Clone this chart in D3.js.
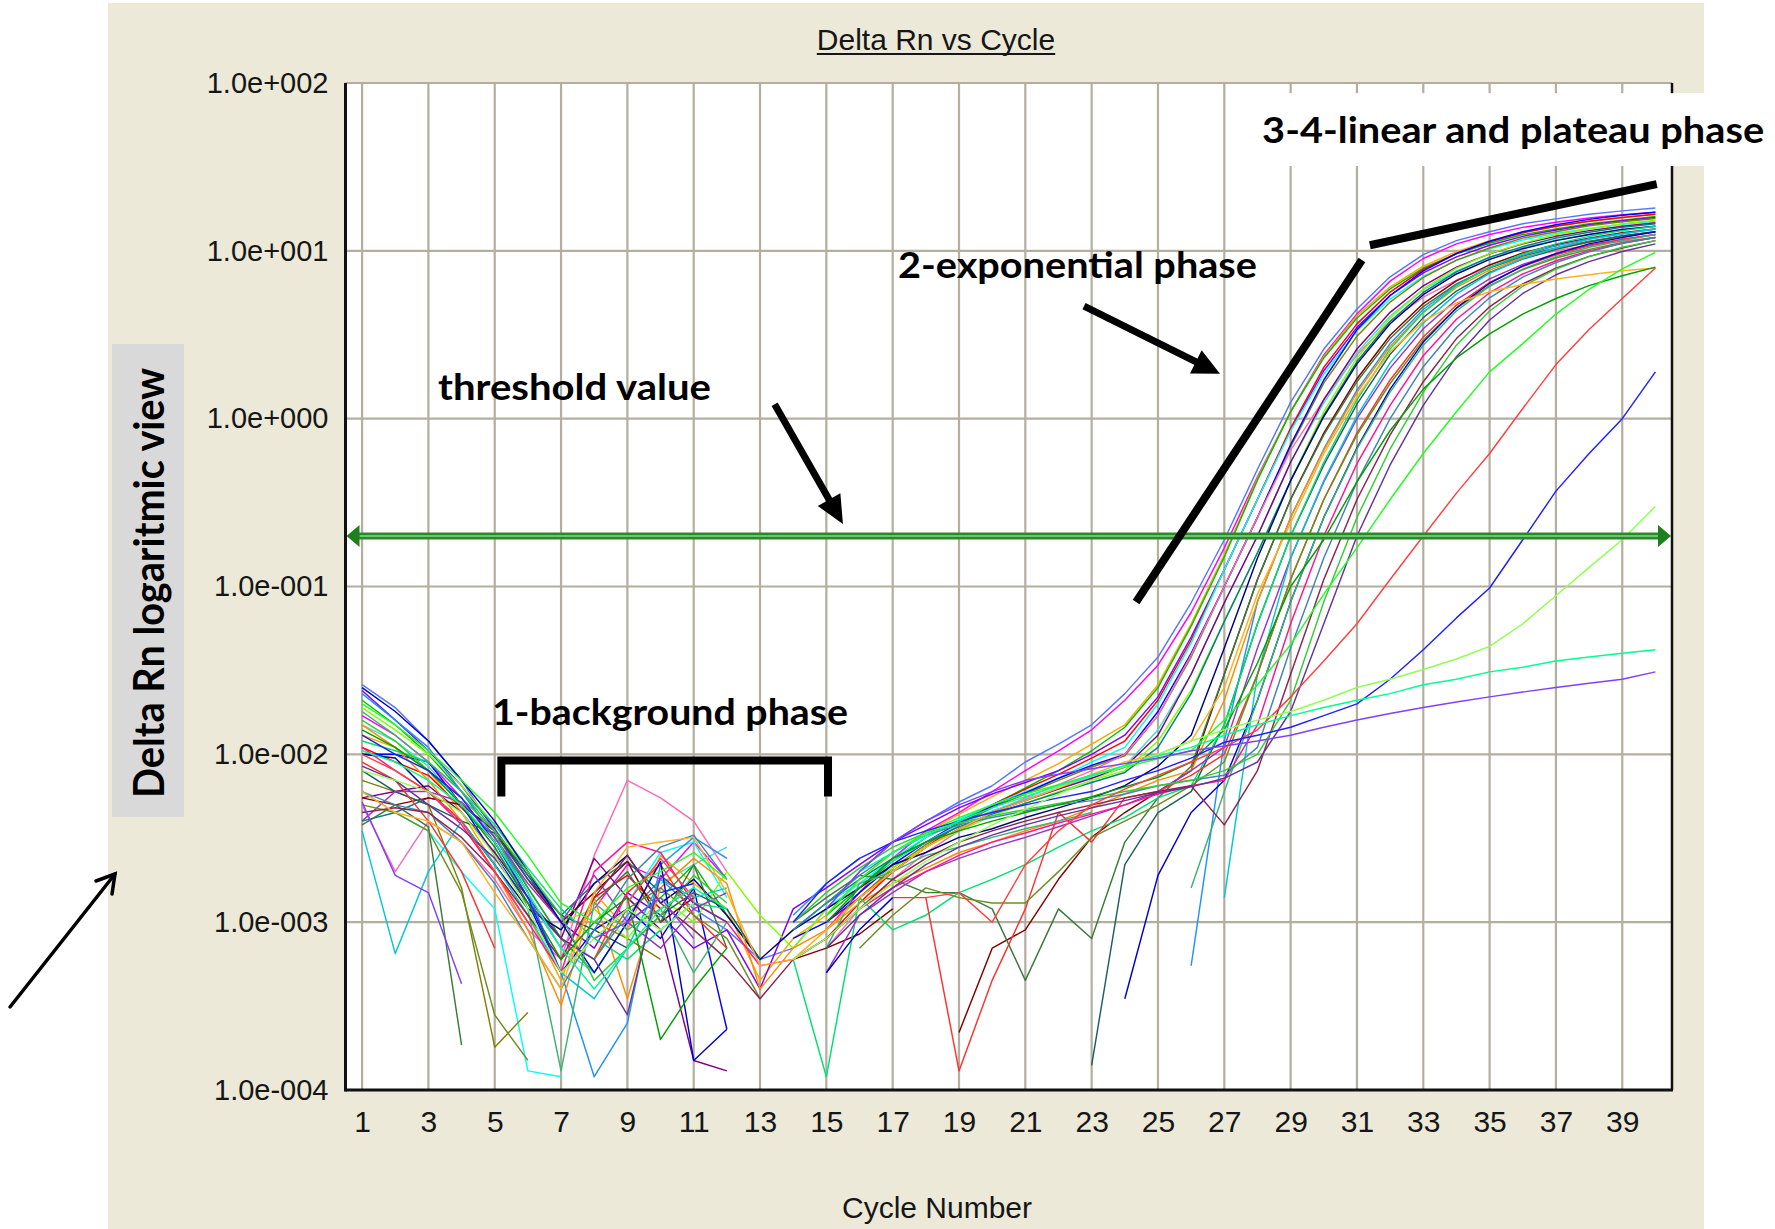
<!DOCTYPE html>
<html>
<head>
<meta charset="utf-8">
<title>Delta Rn vs Cycle</title>
<script src="https://cdn.jsdelivr.net/npm/d3@7/dist/d3.min.js"></script>
<style>
  html, body { margin: 0; padding: 0; background: #ffffff; }
  svg { display: block; }
</style>
</head>
<body>
<svg id="chart" width="1775" height="1229"></svg>
<script>
// ---------------- data ----------------
const cycleTicks = [1, 3, 5, 7, 9, 11, 13, 15, 17, 19, 21, 23, 25, 27, 29, 31, 33, 35, 37, 39];
const decadeTicks = [1e-4, 1e-3, 1e-2, 1e-1, 1, 10, 100];
const decadeLabels = ["1.0e-004", "1.0e-003", "1.0e-002", "1.0e-001", "1.0e+000", "1.0e+001", "1.0e+002"];
const thresholdValue = 0.2;

// Delta Rn per well, cycles 1..40 (null = not plotted on the log scale)
const wellA01 = [2.6e-2,1.9e-2,1.2e-2,7e-3,3.5e-3,1.6e-3,8e-4,6e-4,1.1e-3,1.8e-3,
  1.2e-3,9e-4,6e-4,7e-4,1.2e-3,2.0e-3,3.0e-3,4.0e-3,5.2e-3,6.5e-3,
  9e-3,1.15e-2,1.5e-2,2.3e-2,3.8e-2,8e-2,0.19,0.5,1.25,2.6,
  4.5,7,9.5,11.5,13,14.5,15.5,16.5,17.3,18];
const wellA02 = [1.7e-2,1.3e-2,9e-3,5.5e-3,3e-3,1.4e-3,7e-4,1.2e-3,2.2e-3,1.8e-3,
  3e-3,1.8e-3,null,null,9e-4,1.5e-3,2.4e-3,3.5e-3,4.5e-3,6e-3,
  8e-3,1.05e-2,1.4e-2,2.1e-2,3.4e-2,7e-2,0.17,0.45,1.1,2.4,
  4.2,6.6,9,11,12.5,13.8,14.8,15.7,16.4,17];
const wellA03 = [1.3e-2,1.1e-2,8e-3,4.5e-3,2.2e-3,1.1e-3,4.5e-4,1.5e-3,9e-4,2.5e-3,
  1.7e-3,1.2e-3,4.5e-4,8e-4,1.1e-3,1.8e-3,2.6e-3,3.4e-3,4.4e-3,5.6e-3,
  7e-3,8.8e-3,1.15e-2,1.5e-2,2.6e-2,6e-2,0.155,0.44,1.1,2.35,
  4.1,6.1,8.1,9.9,11.5,12.9,14,15,15.8,16.5];
const wellA04 = [2.1e-2,1.5e-2,1e-2,6e-3,3.2e-3,1.6e-3,8e-4,5e-4,1e-3,1.4e-3,
  2.2e-3,1.1e-3,6e-4,null,1.1e-3,1.6e-3,2.3e-3,3.2e-3,4e-3,5e-3,
  6.3e-3,8e-3,1.05e-2,1.45e-2,2.5e-2,5.8e-2,0.15,0.43,1.1,2.3,
  3.98,5.93,7.9,9.6,11.1,12.5,13.5,14.5,15.2,16];
const wellA05 = [2.4e-2,1.6e-2,1.05e-2,6.5e-3,3.6e-3,1.9e-3,1e-3,7e-4,1.5e-3,1.1e-3,
  7e-4,9e-4,4e-4,1.2e-3,1.6e-3,2.2e-3,3e-3,3.8e-3,4.8e-3,5.8e-3,
  6.8e-3,8e-3,1e-2,1.3e-2,2.2e-2,5e-2,0.126,0.331,0.86,1.93,
  3.5,5.42,7.4,9.2,10.8,12.2,13.3,14.3,15.1,15.8];
const wellA06 = [1.1e-2,9e-3,7.5e-3,4.8e-3,3e-3,1.5e-3,null,1.4e-3,1.9e-3,1.2e-3,
  1.6e-3,null,null,null,8e-4,1.3e-3,2e-3,2.8e-3,3.8e-3,5e-3,
  6.2e-3,7.6e-3,9.5e-3,1.2e-2,2.1e-2,4.8e-2,0.126,0.331,0.88,2.02,
  3.67,5.68,7.76,9.65,11.3,12.8,14,15,15.8,16.5];
const wellA07 = [6e-3,4.5e-3,3.5e-3,2e-3,1.2e-3,1.3e-4,1.2e-4,null,1.3e-3,2.6e-3,
  3e-3,1.4e-3,null,9e-4,1.2e-3,1.7e-3,2.4e-3,3.2e-3,4.1e-3,5e-3,
  6e-3,7.2e-3,9e-3,1.1e-2,2e-2,4.6e-2,0.126,0.331,0.845,1.84,
  3.34,5.16,7.05,8.77,10.3,11.6,12.7,13.6,14.4,15];
const wellA08 = [7e-3,6e-3,5e-3,1.6e-3,1.8e-4,2.9e-4,null,1e-3,8e-4,6e-4,
  null,5e-4,null,null,9e-4,1.4e-3,2.1e-3,2.9e-3,3.8e-3,4.8e-3,
  5.8e-3,7e-3,8.4e-3,9.8e-3,1.7e-2,3.8e-2,0.1,0.258,0.681,1.63,
  3.1,4.95,6.94,8.8,10.4,11.9,13,14.1,14.9,15.6];
const wellA09 = [1e-2,1e-2,9e-3,5e-3,2.5e-3,1.3e-3,5e-4,9e-4,1.2e-3,8e-4,
  1.6e-3,2.3e-4,null,8e-4,1e-3,1.5e-3,2.2e-3,3e-3,3.9e-3,4.9e-3,
  5.9e-3,7.2e-3,8.6e-3,1e-2,1.8e-2,4e-2,0.1,0.258,0.7,1.7,
  3.39,5.42,7.6,9.64,11.4,13,14.3,15.4,16.3,17];
const wellA10 = [5e-3,2e-3,4e-3,3e-3,1.8e-3,9e-4,6e-4,2.5e-3,7e-3,5.5e-3,
  4e-3,2e-3,null,null,7e-4,1.2e-3,1.8e-3,2.6e-3,3.5e-3,4.5e-3,
  5.5e-3,6.6e-3,8e-3,1e-2,1.7e-2,3.9e-2,0.1,0.258,0.65,1.3,
  2.4,3.8,5.3,6.7,8,9.1,10,10.8,11.4,12];
const wellA11 = [1.5e-2,1.2e-2,8.5e-3,5e-3,2.8e-3,1.4e-3,7e-4,5e-4,null,1.7e-3,
  2.2e-3,2.8e-3,null,9e-4,1.3e-3,1.7e-3,2.3e-3,3e-3,3.8e-3,4.6e-3,
  5.4e-3,6.3e-3,7.4e-3,8.5e-3,1.4e-2,3e-2,0.08,0.2,0.55,1.24,
  2.47,4.09,5.88,7.6,9.11,10.45,11.6,12.5,13.3,14];
const wellA12 = [5.5e-3,6e-3,6.5e-3,4.5e-3,2.6e-3,1.4e-3,8e-4,2.4e-3,1.4e-3,9e-4,
  1.5e-4,1.3e-4,null,null,1e-3,1.4e-3,2e-3,2.8e-3,3.6e-3,4.5e-3,
  5.3e-3,6.2e-3,7.2e-3,8.4e-3,1.3e-2,3e-2,0.08,0.2,0.55,1.3,
  2.6,4.3,6.19,8,9.59,11,12.2,13.2,14,14.7];
const wellA13 = [1.9e-2,1.4e-2,1e-2,6.5e-3,3.8e-3,2e-3,1e-3,1.2e-3,8e-4,1.4e-3,
  1e-3,2e-3,1.1e-3,7e-4,1.2e-3,1.6e-3,2.1e-3,2.8e-3,3.5e-3,4.3e-3,
  5.1e-3,6e-3,7e-3,8e-3,1.2e-2,2.4e-2,6.2e-2,0.159,0.427,1.1,
  2.3,3.98,5.93,7.88,9.62,11.1,12.5,13.5,14.5,15.2];
const wellA14 = [4e-3,4.5e-3,5.5e-3,5e-3,3.5e-3,1.9e-3,1.1e-3,1.7e-3,2.3e-3,1.5e-3,
  null,8e-4,null,9e-4,1.3e-3,1.8e-3,2.4e-3,3e-3,3.7e-3,4.4e-3,
  5.1e-3,5.9e-3,6.8e-3,7.8e-3,1.1e-2,2.3e-2,6.2e-2,0.159,0.427,1.05,
  2.19,3.79,5.65,7.5,9.16,10.6,11.9,12.9,13.8,14.5];
const wellB01 = [1e-2,9.5e-3,6e-3,4e-3,2.2e-3,1.2e-3,9e-4,1.7e-3,2.5e-3,1.3e-3,
  1.8e-3,1.1e-3,6e-4,9e-4,1.2e-3,1.6e-3,2.2e-3,2.6e-3,3.2e-3,3.6e-3,
  4.2e-3,4.8e-3,5.5e-3,6.5e-3,8.5e-3,1.3e-2,4.3e-2,0.148,0.427,1.03,
  2.12,3.68,5.48,7.28,8.9,10.3,11.5,12.5,13.4,14];
const wellB02 = [5.5e-3,5e-3,5.5e-3,5e-3,3.5e-3,1.8e-3,1e-3,1.5e-3,2.3e-3,1e-3,
  1.4e-3,null,null,6e-4,7e-4,8.5e-4,1.2e-3,null,2.2e-4,7e-4,
  9e-4,1.8e-3,3.2e-3,4.5e-3,6e-3,8e-3,3e-2,0.11,0.331,0.82,
  1.73,3.14,4.85,6.63,8.24,9.7,10.9,11.9,12.8,13.5];
const wellB03 = [3.8e-3,5e-3,3.7e-3,1.85e-4,null,null,null,1.3e-3,2e-3,1e-3,
  2.2e-3,7e-4,null,1e-3,1.4e-3,1.9e-3,1.8e-3,1.5e-3,1.5e-3,1.2e-3,
  4.5e-4,1.2e-3,8e-4,3e-3,5.5e-3,8.5e-3,3e-2,0.11,0.33,0.8,
  1.66,3,4.65,6.35,7.9,9.3,10.4,11.4,12.2,13];
const wellB04 = [2.3e-2,1.6e-2,1.1e-2,6e-3,3.2e-3,1.5e-3,5e-4,1.2e-4,2.5e-4,2.2e-3,
  3.2e-3,2.4e-3,null,1.1e-3,1.7e-3,2.4e-3,null,null,null,null,
  null,null,null,null,null,5.5e-4,1.2e-2,8.1e-2,0.258,0.66,
  1.48,2.8,4.47,6.28,7.96,9.43,10.7,11.8,12.7,13.5];
const wellB05 = [1.5e-2,1.1e-2,7e-3,4e-3,2e-3,9e-4,3.2e-4,1.4e-3,3.5e-4,1.6e-3,
  2.4e-3,1.7e-3,4e-4,7e-4,9e-4,1.3e-3,1.7e-3,2.1e-3,2.6e-3,3e-3,
  3.5e-3,4e-3,4.8e-3,5.8e-3,7e-3,8e-3,2.1e-2,8.1e-2,0.258,0.65,
  1.43,2.7,4.31,6.05,7.67,9.09,10.3,11.3,12.2,13];
const wellB06 = [8e-3,6e-3,5e-3,4e-3,3.4e-3,1.8e-3,1.1e-3,9e-4,7e-4,1.1e-3,
  1.5e-3,1.2e-3,6e-4,null,null,null,null,null,null,null,
  null,null,1.4e-4,2.2e-3,4.5e-3,6e-3,1.5e-2,6e-2,0.2,0.53,
  1.22,2.42,4,5.76,7.44,8.92,10.2,11.3,12.3,13];
const wellB07 = [1.2e-2,1.05e-2,9e-3,6e-3,3.8e-3,2.1e-3,1.2e-3,8e-4,6e-4,9e-4,
  1.3e-3,1.2e-3,null,6e-4,1.2e-4,1.4e-3,9e-4,1.1e-3,1.5e-3,1.8e-3,
  2.2e-3,2.8e-3,3.5e-3,4.2e-3,5.5e-3,6.5e-3,1.5e-2,6e-2,0.2,0.55,
  1.3,2.6,4.3,6.19,8,9.59,11,12.2,13.2,14];
const wellB08 = [4e-3,6e-3,6e-3,5.2e-3,3.2e-3,1.7e-3,1e-3,1.9e-3,1e-3,7e-4,
  1.2e-3,1.5e-3,null,null,5e-4,1.1e-3,1.5e-3,2e-3,2.4e-3,2.8e-3,
  3.2e-3,3.7e-3,4.3e-3,5e-3,6e-3,8e-3,1.1e-2,4.3e-2,0.148,0.42,
  1,2,3.43,5.12,6.8,8.3,9.6,10.8,11.7,12.5];
const wellB09 = [3.5e-3,6.5e-4,2e-3,4e-3,2.2e-3,1.1e-3,5e-4,3.5e-4,7e-4,1.8e-3,
  1.4e-3,1.6e-3,null,null,null,null,null,null,null,null,
  null,null,null,null,null,null,1.4e-3,3e-2,0.148,0.427,
  1.04,2.15,3.71,5.54,7.35,8.98,10.4,11.7,12.6,13.5];
const wellB10 = [9e-3,7e-3,4e-3,2e-3,7e-4,null,null,6e-4,1.5e-3,2.2e-3,
  1.1e-3,7e-4,null,null,null,null,1.4e-3,1.4e-3,1.3e-4,4.5e-4,
  1.2e-3,4.5e-3,3e-3,5.5e-3,6e-3,7.5e-3,1e-2,3e-2,0.11,0.33,
  0.82,1.7,3.07,4.75,6.49,8.07,9.48,10.7,11.7,12.5];
const wellB11 = [5e-3,4.5e-3,3.5e-3,1.5e-3,2.8e-4,1.5e-4,null,6e-4,1.2e-3,1.6e-3,
  1.1e-3,8e-4,3.5e-4,null,null,7e-4,1.1e-3,1.6e-3,1.4e-3,1.3e-3,
  1.3e-3,2e-3,3.2e-3,4e-3,5e-3,6.5e-3,9e-3,3e-2,0.11,0.33,
  0.8,1.62,2.94,4.54,6.2,7.72,9.06,10.2,11.2,12];
const wellB12 = [2.5e-2,1.8e-2,1.2e-2,7e-3,4e-3,2e-3,1e-3,5e-4,1e-3,2.3e-3,
  1.5e-4,2.3e-4,null,null,5e-4,9e-4,1.4e-3,null,null,null,
  null,null,null,3.5e-4,1.9e-3,4.5e-3,7e-3,2.1e-2,8.1e-2,0.258,
  0.67,1.5,2.86,4.57,6.41,8.13,9.63,11,12,13];
const wellB13 = [1.8e-2,1.3e-2,9e-3,6e-3,3.5e-3,1.2e-3,1.3e-4,1.3e-3,9e-4,1.2e-3,
  5e-4,1e-3,null,null,7e-4,1.7e-3,2e-3,2.5e-3,2.8e-3,3.2e-3,
  3.6e-3,4e-3,4.5e-3,null,null,1.6e-3,6e-3,2.1e-2,8.1e-2,0.258,
  0.66,1.44,2.74,4.38,6.15,7.79,9.23,10.5,11.5,12.5];
const wellB14 = [1.1e-2,8e-3,6e-3,3.8e-3,2e-3,1e-3,5e-4,2e-3,3e-3,2.6e-3,
  1.3e-3,1e-3,5.5e-4,6e-4,8e-4,1.2e-3,1.6e-3,2e-3,2.5e-3,3e-3,
  3.4e-3,3.9e-3,4.4e-3,5e-3,5.8e-3,6.5e-3,7e-3,1.5e-2,6e-2,0.2,
  0.54,1.2,2.37,3.91,5.63,7.28,8.73,10,11.1,12];
const wellB15 = [6e-3,5e-3,4.5e-3,3e-3,1.7e-3,8e-4,4e-4,9e-4,1.8e-3,2.8e-3,
  3.3e-3,1.8e-3,null,9e-4,1.3e-3,1.9e-3,2.6e-3,3.3e-3,3.8e-3,4.2e-3,
  4.6e-3,5e-3,5.3e-3,5.8e-3,6.5e-3,7e-3,7.5e-3,1.1e-2,4.3e-2,0.148,
  0.42,1,2.04,3.52,5.25,6.98,8.52,9.86,11.1,12];
const wellB16 = [4.5e-3,4.8e-3,4.5e-3,3.2e-3,2e-3,1.1e-3,6e-4,1.4e-3,2.5e-3,1.3e-3,
  9e-4,6e-4,3.5e-4,6e-4,8e-4,1.2e-3,1.8e-3,2.4e-3,3e-3,3.5e-3,
  4e-3,4.5e-3,5e-3,5.5e-3,6e-3,6.5e-3,3.8e-3,8e-3,3e-2,0.11,
  0.33,0.8,1.66,3,4.64,6.35,7.89,9.27,10.4,11.5];
const wellB17 = [1.6e-2,1.2e-2,8e-3,5.5e-3,3.5e-3,2e-3,1.1e-3,4.5e-4,7e-4,1.1e-3,
  1.9e-3,1.3e-3,null,1e-3,1.5e-3,2.1e-3,2.8e-3,3.4e-3,3.9e-3,4.3e-3,
  4.7e-3,5.1e-3,5.5e-3,6e-3,6.5e-3,7e-3,8e-3,1e-2,2.1e-2,8.1e-2,
  0.258,0.66,1.44,2.74,4.38,6.15,7.79,9.24,10.5,11.5];
const wellB18 = [8.5e-3,7e-3,5e-3,3.6e-3,2.4e-3,1.3e-3,8e-4,6e-4,2.8e-4,1.9e-3,
  1.3e-3,1e-3,null,null,7e-4,1.1e-3,1.6e-3,2.2e-3,2.8e-3,3.3e-3,
  3.8e-3,4.3e-3,4.8e-3,5.3e-3,5.9e-3,6.4e-3,7.2e-3,9e-3,1.8e-2,6e-2,
  0.2,0.53,1.2,2.34,3.87,5.57,7.2,8.63,9.9,11];
const wellC01 = [6e-3,4.5e-3,4e-3,3e-3,1.5e-3,8e-4,4e-4,1.5e-3,2.8e-3,3e-3,
  3.2e-3,1.5e-3,5.5e-4,6e-4,9e-4,1.4e-3,2e-3,2.8e-3,3.6e-3,4.5e-3,
  5.3e-3,6.3e-3,7.6e-3,9e-3,1e-2,1.2e-2,2.5e-2,9e-2,0.24,0.62,
  1.35,2.5,3.8,4.9,5.7,6.3,6.8,7.2,7.6,7.9];
const wellC02 = [1.4e-2,1.1e-2,8e-3,5e-3,2.8e-3,1.3e-3,6e-4,1e-3,1.4e-3,2e-4,
  4e-4,7e-4,null,null,1e-3,1.6e-3,2.4e-3,3e-3,3.5e-3,4e-3,
  4.5e-3,5e-3,5.6e-3,6.4e-3,7.3e-3,9e-3,1.4e-2,3.5e-2,0.1,0.19,
  0.42,0.85,1.5,2.3,3.2,4.2,5.2,6.2,7.1,8];
const wellC03 = [2e-2,1.5e-2,1.05e-2,7e-3,4.5e-3,2.5e-3,1.3e-3,1e-3,1.6e-3,2e-3,
  2.6e-3,1.8e-3,null,null,1.1e-3,1.8e-3,2.6e-3,3.4e-3,4.2e-3,5e-3,
  5.8e-3,6.6e-3,7.5e-3,8.4e-3,9.4e-3,1.05e-2,1.6e-2,2.6e-2,4.5e-2,9e-2,
  0.17,0.33,0.62,1.1,1.9,2.8,4.2,5.9,7.8,9.8];
const wellC04 = [1e-2,8e-3,6e-3,4e-3,2e-3,1e-3,null,null,1.3e-3,2.4e-3,
  1.4e-3,null,null,null,null,null,null,1.4e-3,1.5e-3,1e-3,
  2.2e-3,3.5e-3,5e-3,6.2e-3,7.5e-3,9e-3,1.1e-2,1.4e-2,2.2e-2,3.6e-2,
  6e-2,0.11,0.2,0.36,0.62,1.15,2.1,3.4,5.2,7.9];
const wellC05 = [1.3e-2,1e-2,8e-3,5.5e-3,3e-3,1.4e-3,5e-4,null,null,1.5e-3,
  1.7e-3,null,null,1e-3,1.7e-3,2.4e-3,3e-3,3.5e-3,4e-3,4.5e-3,
  5e-3,5.5e-3,6e-3,7e-3,8e-3,9.5e-3,1.18e-2,1.3e-2,1.45e-2,1.7e-2,
  2e-2,2.8e-2,4.2e-2,6.5e-2,9.8e-2,0.19,0.37,0.62,1,1.9];
const wellC06 = [8e-3,7e-3,6e-3,4.5e-3,2.5e-3,1.2e-3,5e-4,8e-4,1.2e-3,9e-4,
  1.3e-3,null,null,6e-4,8e-4,1.2e-3,1.7e-3,2.3e-3,3e-3,3.8e-3,
  4.7e-3,5.8e-3,7e-3,8.5e-3,1e-2,1.2e-2,1.4e-2,1.6e-2,1.8e-2,2.1e-2,
  2.5e-2,2.8e-2,3.2e-2,3.7e-2,4.4e-2,6e-2,8.8e-2,0.13,0.19,0.3];
const wellC07 = [1.05e-2,9e-3,7e-3,5e-3,3e-3,1.5e-3,7e-4,4e-4,7e-4,1.2e-3,
  1.6e-3,1.2e-3,null,7e-4,null,2e-3,2.6e-3,3.3e-3,4e-3,4.8e-3,
  5.6e-3,6.5e-3,7.5e-3,8.6e-3,9.8e-3,1.1e-2,1.3e-2,1.5e-2,1.7e-2,1.9e-2,
  2.1e-2,2.3e-2,2.6e-2,2.8e-2,3.1e-2,3.3e-2,3.6e-2,3.8e-2,4e-2,4.2e-2];
const wellC08 = [5.2e-3,1.9e-3,1.5e-3,4.3e-4,null,null,null,8e-4,1e-3,1.4e-3,
  8e-4,null,null,null,1.2e-3,2e-3,3e-3,4e-3,5e-3,6e-3,
  7e-3,7.6e-3,8.2e-3,8.8e-3,9.5e-3,1.05e-2,1.12e-2,1.2e-2,1.3e-2,1.45e-2,
  1.6e-2,1.75e-2,1.9e-2,2.05e-2,2.2e-2,2.35e-2,2.5e-2,2.65e-2,2.8e-2,3.1e-2];

const wells = [
  wellA01, wellA02, wellA03, wellA04, wellA05, wellA06, wellA07, wellA08, wellA09, wellA10,
  wellA11, wellA12, wellA13, wellA14,
  wellB01, wellB02, wellB03, wellB04, wellB05, wellB06, wellB07, wellB08, wellB09, wellB10,
  wellB11, wellB12, wellB13, wellB14, wellB15, wellB16, wellB17, wellB18,
  wellC01, wellC02, wellC03, wellC04, wellC05, wellC06, wellC07, wellC08
];
const wellColors = [
  "#5577ff", "#ff00ff", "#ffa500", "#00c000", "#8000ff", "#ff0000", "#00ffff", "#808000", "#0000ff", "#ff69b4",
  "#40e0d0", "#800080", "#80ff00", "#008080",
  "#000080", "#800000", "#3a7a3a", "#1e90ff", "#ff8c00", "#1f5f5f", "#00e070", "#9932cc", "#00c8d0", "#ff3030",
  "#6b8e23", "#0000cd", "#3cb371", "#ff1493", "#4682b4", "#8b2252", "#32cd32", "#663399",
  "#ffb020", "#00a000", "#20ff20", "#ff4040", "#2020ff", "#90ff50", "#00ff90", "#8040ff"
];

// Annotation anchors in chart units: [cycle, Delta Rn]
const thresholdPointer = [[13.44, 1.22], [15.5, 0.236]];
const exponentialPointer = [[22.77, 4.69], [26.87, 1.85]];
const exponentialBar = [[24.34, 0.0809], [31.15, 8.82]];
const plateauBar = [[31.39, 10.8], [40.04, 25.0]];
const backgroundBracket = { from: 5.2, to: 15.05, top: 9.2e-3, foot: 5.6e-3 };

// ---------------- layout ----------------
const svg = d3.select("#chart");
const plotLeft = 345.5, plotRight = 1672, plotTop = 83, plotBottom = 1090;

const x = d3.scaleLinear().domain([0.5, 40.5]).range([plotLeft, plotRight]);
const y = d3.scaleLog().domain([1e-4, 100]).range([plotBottom, plotTop]);

const axisFont = "'Liberation Sans', Arial, Helvetica, sans-serif";
const noteFont = "Lato, 'Open Sans', 'Liberation Sans', sans-serif";

// window panel
svg.append("rect")
  .attr("x", 108).attr("y", 3).attr("width", 1596).attr("height", 1226)
  .attr("fill", "#ece9d8");

// plot background
svg.append("rect")
  .attr("x", plotLeft).attr("y", plotTop)
  .attr("width", plotRight - plotLeft).attr("height", plotBottom - plotTop)
  .attr("fill", "#ffffff");

// grid
const grid = svg.append("g").attr("stroke", "#b3ae9f").attr("stroke-width", 2.2);
grid.selectAll("line.vx").data(cycleTicks).join("line")
  .attr("x1", d => x(d)).attr("x2", d => x(d))
  .attr("y1", plotTop).attr("y2", plotBottom);
grid.selectAll("line.hy").data(decadeTicks).join("line")
  .attr("x1", plotLeft).attr("x2", plotRight)
  .attr("y1", d => y(d)).attr("y2", d => y(d));

// amplification curves
svg.append("clipPath").attr("id", "plotClip")
  .append("rect")
  .attr("x", plotLeft).attr("y", plotTop)
  .attr("width", plotRight - plotLeft).attr("height", plotBottom - plotTop);

const curve = d3.line()
  .defined(d => d != null)
  .x((d, i) => x(i + 1))
  .y(d => y(d));

svg.append("g").attr("clip-path", "url(#plotClip)")
  .selectAll("path").data(wells).join("path")
  .attr("d", curve)
  .attr("fill", "none")
  .attr("stroke", (d, i) => wellColors[i])
  .attr("stroke-width", 1.45)
  .attr("stroke-linejoin", "round");

// threshold line with end arrows
const ty = y(thresholdValue);
const thr = svg.append("g");
thr.append("line")
  .attr("x1", plotLeft + 8).attr("x2", plotRight - 8)
  .attr("y1", ty).attr("y2", ty)
  .attr("stroke", "#2a8a2a").attr("stroke-width", 7);
thr.append("line")
  .attr("x1", plotLeft + 8).attr("x2", plotRight - 8)
  .attr("y1", ty).attr("y2", ty)
  .attr("stroke", "#6cc46c").attr("stroke-width", 2.2);
thr.append("path")
  .attr("d", `M${plotLeft + 1},${ty} L${plotLeft + 14},${ty - 11} L${plotLeft + 14},${ty + 11} Z`)
  .attr("fill", "#1f7f1f");
thr.append("path")
  .attr("d", `M${plotRight - 1},${ty} L${plotRight - 14},${ty - 11} L${plotRight - 14},${ty + 11} Z`)
  .attr("fill", "#1f7f1f");

// axes
const xAxis = d3.axisBottom(x).tickValues(cycleTicks).tickSize(0).tickPadding(21)
  .tickFormat(d3.format("d"));
svg.append("g")
  .attr("transform", `translate(0,${plotBottom})`)
  .call(xAxis)
  .call(g => g.select(".domain").remove())
  .attr("font-family", axisFont).attr("font-size", 30)
  .selectAll("text").attr("fill", "#161616");

const yAxis = d3.axisLeft(y).tickValues(decadeTicks).tickSize(0).tickPadding(17)
  .tickFormat((d, i) => decadeLabels[i]);
svg.append("g")
  .attr("transform", `translate(${plotLeft},0)`)
  .call(yAxis)
  .call(g => g.select(".domain").remove())
  .attr("font-family", axisFont).attr("font-size", 29)
  .selectAll("text").attr("fill", "#161616");

// plot frame
const frame = svg.append("g").attr("stroke", "#111111");
frame.append("line").attr("x1", plotLeft).attr("x2", plotLeft)
  .attr("y1", plotTop).attr("y2", plotBottom + 1.5).attr("stroke-width", 3);
frame.append("line").attr("x1", plotLeft).attr("x2", plotRight + 1)
  .attr("y1", plotBottom).attr("y2", plotBottom).attr("stroke-width", 3);
frame.append("line").attr("x1", plotRight).attr("x2", plotRight)
  .attr("y1", plotTop).attr("y2", plotBottom).attr("stroke-width", 2.5);

// title
const title = svg.append("text")
  .attr("x", 936).attr("y", 50)
  .attr("text-anchor", "middle")
  .attr("font-family", axisFont).attr("font-size", 30)
  .attr("fill", "#161616")
  .text("Delta Rn vs Cycle");
const tw = title.node().getComputedTextLength();
svg.append("line")
  .attr("x1", 936 - tw / 2).attr("x2", 936 + tw / 2)
  .attr("y1", 54).attr("y2", 54)
  .attr("stroke", "#161616").attr("stroke-width", 2);

// x axis title
svg.append("text")
  .attr("x", 937).attr("y", 1218)
  .attr("text-anchor", "middle")
  .attr("font-family", axisFont).attr("font-size", 30)
  .attr("fill", "#161616")
  .text("Cycle Number");

// y axis title on grey label
svg.append("rect")
  .attr("x", 112).attr("y", 344).attr("width", 72).attr("height", 473)
  .attr("fill", "#d9d9d9");
svg.append("text")
  .attr("transform", "translate(164,583) rotate(-90)")
  .attr("text-anchor", "middle")
  .attr("font-family", noteFont).attr("font-weight", 700).attr("font-size", 42)
  .attr("textLength", 430).attr("lengthAdjust", "spacingAndGlyphs")
  .attr("fill", "#000")
  .text("Delta Rn logaritmic view");

// small pointer towards the axis title
const bl = svg.append("g").attr("stroke", "#000").attr("stroke-width", 3.5)
  .attr("fill", "none").attr("stroke-linecap", "round");
bl.append("line").attr("x1", 10).attr("y1", 1007).attr("x2", 115).attr("y2", 874);
bl.append("path").attr("d", "M96,881 L115,874 L112,894");

// ---------------- annotations ----------------
const notes = svg.append("g");
const px = p => [x(p[0]), y(p[1])];

function arrow(g, from, to, width, headLen, headHalf) {
  const [x1, y1] = px(from), [x2, y2] = px(to);
  const dx = x2 - x1, dy = y2 - y1, L = Math.hypot(dx, dy);
  const ux = dx / L, uy = dy / L;
  const bx = x2 - ux * headLen, by = y2 - uy * headLen;
  g.append("line").attr("x1", x1).attr("y1", y1).attr("x2", bx + ux * 2).attr("y2", by + uy * 2)
    .attr("stroke", "#000").attr("stroke-width", width);
  g.append("path")
    .attr("d", `M${x2},${y2} L${bx - uy * headHalf},${by + ux * headHalf} L${bx + uy * headHalf},${by - ux * headHalf} Z`)
    .attr("fill", "#000");
}
function bar(g, from, to, width) {
  const [x1, y1] = px(from), [x2, y2] = px(to);
  g.append("line").attr("x1", x1).attr("y1", y1).attr("x2", x2).attr("y2", y2)
    .attr("stroke", "#000").attr("stroke-width", width);
}

arrow(notes, thresholdPointer[0], thresholdPointer[1], 7, 28, 13);
arrow(notes, exponentialPointer[0], exponentialPointer[1], 7, 27, 13);
bar(notes, exponentialBar[0], exponentialBar[1], 8);
bar(notes, plateauBar[0], plateauBar[1], 8);

// background bracket
const bxl = x(backgroundBracket.from), bxr = x(backgroundBracket.to);
const byt = y(backgroundBracket.top), byf = y(backgroundBracket.foot);
notes.append("path")
  .attr("d", `M${bxl},${byf} L${bxl},${byt} L${bxr},${byt} L${bxr},${byf}`)
  .attr("fill", "none").attr("stroke", "#000").attr("stroke-width", 8)
  .attr("stroke-linejoin", "miter");

// white label plate for the plateau note
notes.append("rect")
  .attr("x", x(27.62)).attr("y", y(87))
  .attr("width", 1775 - x(27.62)).attr("height", y(32) - y(87))
  .attr("fill", "#ffffff");

function note(label, cycle, value, len) {
  notes.append("text")
    .attr("x", x(cycle)).attr("y", y(value))
    .attr("font-family", noteFont).attr("font-weight", 700).attr("font-size", 37)
    .attr("textLength", len).attr("lengthAdjust", "spacingAndGlyphs")
    .attr("fill", "#000")
    .text(label);
}
note("threshold value", 3.29, 1.29, 273);
note("2-exponential phase", 17.16, 6.89, 359);
note("3-4-linear and plateau phase", 28.14, 43.9, 502);
note("1-background phase", 4.92, 0.0149, 356);
</script>
</body>
</html>
